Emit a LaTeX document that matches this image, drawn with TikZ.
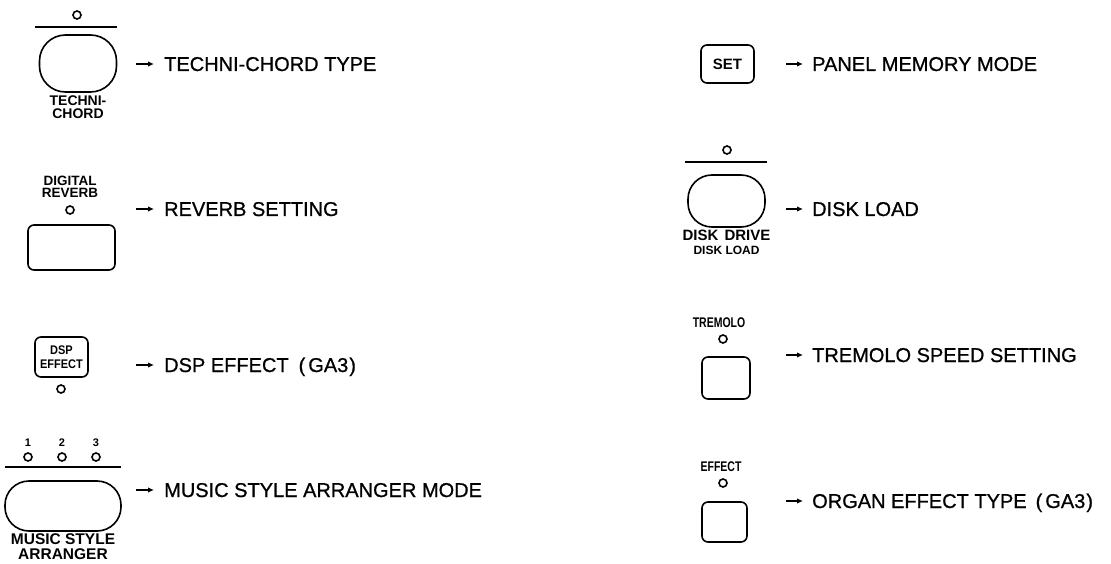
\documentclass[tikz,border=0pt]{standalone}
\usepackage{fontspec}
\setmainfont{Liberation Sans}
\newfontfamily\heavyfont[FakeBold=0.8]{Liberation Sans}
\newfontfamily\condfont[FakeStretch=0.75]{Liberation Sans}
\newfontfamily\semicond[FakeStretch=0.88]{Liberation Sans}
\usetikzlibrary{arrows.meta,positioning}

\begin{document}
\begin{tikzpicture}[x=1pt, y=-1pt,
  every node/.style={font=\fontsize{20}{24}\selectfont},
  led/.style={circle, draw, line width=1.6pt, minimum size=8pt, inner sep=0pt},
  pad/.style={rectangle, draw, line width=1.6pt, rounded corners=6pt, inner sep=0pt},
  oval/.style={pad, rounded corners=24pt},
  bar/.style={line width=1.7pt},
  tag/.style={align=center, inner sep=0pt, font=\bfseries\fontsize{14}{12.5}\selectfont},
  num/.style={inner sep=0pt, font=\bfseries\fontsize{11}{11}\selectfont},
  lbl/.style={anchor=west, inner sep=0pt, text height=14pt, text depth=0pt,
              font=\heavyfont\fontsize{20}{24}\selectfont},
  ar/.style={-{Latex[length=6pt,width=5.5pt]}, line width=1.5pt}
]
\useasboundingbox (0,0) rectangle (1111,564);

% left column
\node[led] (tcled) at (77,15) {};
\draw[bar] (35,27) -- (117,27);
\node[oval, minimum width=77pt, minimum height=57pt, rounded corners=26pt] (tc) at (78,63.5) {};
\node[tag, below=3pt of tc] (tctag) {TECHNI-\\CHORD};
\node[lbl] (tcl) at (164,64) {TECHNI-CHORD TYPE};

\node[tag, anchor=north, font=\bfseries\fontsize{13.5}{11.5}\selectfont] (drtag) at (70,176) {DIGITAL\\REVERB};
\node[led] (drled) at (70,210) {};
\node[pad, minimum width=87pt, minimum height=45pt] (dr) at (71.5,247.5) {};
\node[lbl] (drl) at (164,209) {REVERB SETTING};

\node[pad, minimum width=53pt, minimum height=40pt, align=center,
      font=\semicond\bfseries\fontsize{12.5}{14}\selectfont] (dsp) at (61.5,357) {DSP\\EFFECT};
\node[led] (dspled) at (61,389) {};
\node[lbl] (dspl) at (164,365) {DSP EFFECT\hspace{10pt}(\hspace{3pt}GA3\hspace{1pt})};

\foreach \n/\x in {1/28,2/62,3/96} {
  \node[num] (n\n) at (\x,443) {\n};
  \node[led] (m\n) at (\x,457) {};
}
\draw[bar] (5,467) -- (121,467);
\node[oval, minimum width=116pt, minimum height=50pt] (msa) at (63,506) {};
\node[tag, below=1.5pt of msa, font=\bfseries\fontsize{15.5}{15}\selectfont] (msatag) {MUSIC STYLE\\ARRANGER};
\node[lbl] (msal) at (164,490) {MUSIC STYLE ARRANGER MODE};

% right column
\node[pad, minimum width=53pt, minimum height=38pt,
      font=\bfseries\fontsize{15}{15}\selectfont] (set) at (727.5,64) {SET};
\node[lbl] (setl) at (812,64) {PANEL MEMORY MODE};

\node[led] (ddled) at (727,150) {};
\draw[bar] (685,162) -- (767,162);
\node[oval, minimum width=77pt, minimum height=52pt] (dd) at (726.5,201) {};
\node[tag, below=2pt of dd, font=\bfseries\fontsize{15}{15}\selectfont] (ddtag) {DISK\hspace{6pt}DRIVE};
\node[tag, below=5pt of ddtag, font=\bfseries\fontsize{12}{12}\selectfont] (ddsub) {DISK LOAD};
\node[lbl] (ddl) at (812,209) {DISK LOAD};

\node[tag, anchor=north, font=\condfont\bfseries\fontsize{14}{14}\selectfont] (trtag) at (719,318) {TREMOLO};
\node[led] (trled) at (723,339) {};
\node[pad, minimum width=48pt, minimum height=42pt] (tr) at (726,378) {};
\node[lbl] (trl) at (812,355) {TREMOLO SPEED SETTING};

\node[tag, anchor=north, font=\condfont\bfseries\fontsize{14}{14}\selectfont] (eftag) at (721,462) {EFFECT};
\node[led] (efled) at (723,483) {};
\node[pad, minimum width=45pt, minimum height=40pt] (ef) at (724.5,522) {};
\node[lbl] (efl) at (812,501) {ORGAN EFFECT TYPE\hspace{9pt}(\hspace{3pt}GA3\hspace{1pt})};

% arrows to the meanings
\foreach \l in {tcl,drl,dspl,msal}
  \draw[ar] ([xshift=-28pt]\l.west) -- ([xshift=-10pt]\l.west);
\foreach \l in {setl,ddl,trl,efl}
  \draw[ar] ([xshift=-26pt]\l.west) -- ([xshift=-9pt]\l.west);
\end{tikzpicture}
\end{document}
